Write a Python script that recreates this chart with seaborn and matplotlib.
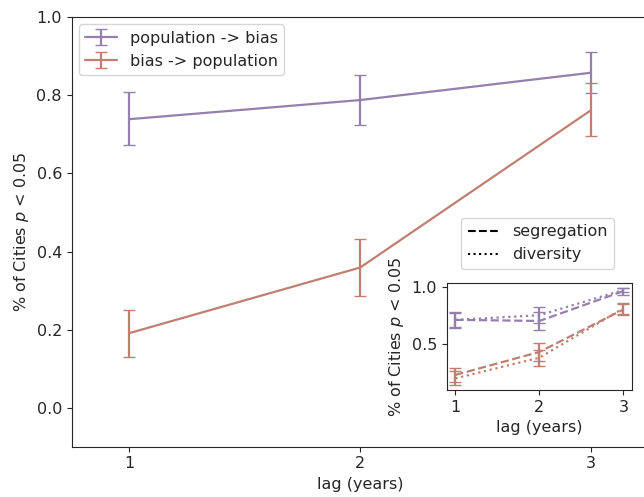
import matplotlib
matplotlib.use("Agg")
import matplotlib.pyplot as plt
import seaborn as sns
from matplotlib.lines import Line2D

sns.set_style("ticks")
plt.rcParams['font.family'] = ['DejaVu Sans']
plt.rcParams['font.size'] = 11.5
plt.rcParams['axes.labelsize'] = 11.5
plt.rcParams['xtick.labelsize'] = 11.5
plt.rcParams['ytick.labelsize'] = 11.5
plt.rcParams['legend.fontsize'] = 11.5

# ===============================
# data
# ===============================
lags = [1, 2, 3]

# main panel
pop_bias = [0.739, 0.788, 0.858]
pop_bias_lo = [0.672, 0.724, 0.805]
pop_bias_hi = [0.808, 0.852, 0.912]

bias_pop = [0.191, 0.359, 0.762]
bias_pop_lo = [0.131, 0.287, 0.696]
bias_pop_hi = [0.250, 0.431, 0.831]

# inset: segregation (dashed) / diversity (dotted)
seg_pop_bias = [0.71, 0.70, 0.96]
seg_pop_bias_err = [0.07, 0.08, 0.03]
div_pop_bias = [0.71, 0.75, 0.97]
div_pop_bias_err = [0.06, 0.07, 0.02]

seg_bias_pop = [0.23, 0.43, 0.80]
seg_bias_pop_err = [0.06, 0.08, 0.05]
div_bias_pop = [0.20, 0.38, 0.81]
div_bias_pop_err = [0.06, 0.07, 0.05]

c_pb = "#9580ad"
c_bp = "#c07f70"

# ===============================
# figure
# ===============================
fig = plt.figure(figsize=(6.44, 4.97), dpi=100)
ax = fig.add_axes([0.1113, 0.1012, 0.896, 0.864])


def asym(vals, lo, hi):
    return [[v - l for v, l in zip(vals, lo)], [h - v for v, h in zip(vals, hi)]]


ax.errorbar(lags, pop_bias, yerr=asym(pop_bias, pop_bias_lo, pop_bias_hi),
            color=c_pb, capsize=4, lw=1.6, label="population -> bias")
ax.errorbar(lags, bias_pop, yerr=asym(bias_pop, bias_pop_lo, bias_pop_hi),
            color=c_bp, capsize=4, lw=1.6, label="bias -> population")

ax.set_xlim(0.75, 3.25)
ax.set_ylim(-0.1, 1.0)
ax.set_xticks(lags)
ax.set_xlabel("lag (years)")
ax.set_ylabel("% of Cities $p$ < 0.05")
leg1 = ax.legend(loc="upper left", borderaxespad=0.45)
ax.add_artist(leg1)

style_handles = [Line2D([], [], color="black", ls="--", lw=1.5),
                 Line2D([], [], color="black", ls=":", lw=1.5)]
ax.legend(style_handles, ["segregation", "diversity"], loc="upper left",
          bbox_to_anchor=(0.675, 0.533), borderaxespad=0)

# ===============================
# inset
# ===============================
ins = fig.add_axes([0.694, 0.215, 0.287, 0.216])
for vals, err, col, ls in [
    (seg_pop_bias, seg_pop_bias_err, c_pb, "--"),
    (div_pop_bias, div_pop_bias_err, c_pb, ":"),
    (seg_bias_pop, seg_bias_pop_err, c_bp, "--"),
    (div_bias_pop, div_bias_pop_err, c_bp, ":"),
]:
    ins.errorbar(lags, vals, yerr=err, color=col, ls=ls, capsize=4, lw=1.6)

ins.set_xticks(lags)
ins.set_xlabel("lag (years)")
ins.set_ylabel("% of Cities $p$ < 0.05")

fig.savefig("out.png", dpi=100)
